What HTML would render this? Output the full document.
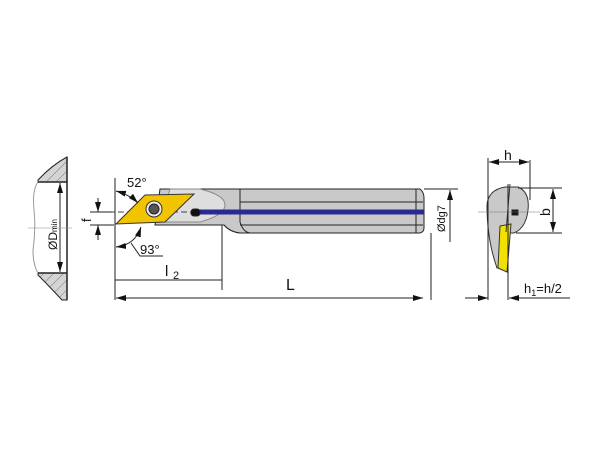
<!DOCTYPE html>
<html><head><meta charset="utf-8"><style>body{margin:0;background:#fff}svg{display:block}text{font-family:"Liberation Sans",sans-serif;fill:#111}</style></head><body>
<svg width="600" height="450" viewBox="0 0 600 450" xmlns="http://www.w3.org/2000/svg">
<defs>
<pattern id="h" width="7" height="7" patternUnits="userSpaceOnUse" patternTransform="rotate(45)"><rect width="7" height="7" fill="#d4d4d4"/><line x1="0" y1="0" x2="0" y2="7" stroke="#666" stroke-width="0.8"/></pattern>
<marker id="a" viewBox="0 0 10 6" refX="10" refY="3" markerWidth="10" markerHeight="6" orient="auto-start-reverse" markerUnits="userSpaceOnUse"><path d="M0,0L10,3L0,6z" fill="#111"/></marker>
</defs>
<g stroke="#222" stroke-width="1" fill="none">
<path d="M38,182 L67,182 L67,157 Q52,165 38,180 Z" fill="url(#h)"/>
<path d="M38,273 L67,273 L67,300 L62,300 Q48,285 38,275 Z" fill="url(#h)"/>
<line x1="67" y1="157" x2="67" y2="300" stroke-width="1.5"/>
<path d="M38,182 Q32,190 34,210 Q36,230 33,250 Q33,265 38,273" stroke="#999"/>
<line x1="38" y1="182" x2="67" y2="182" stroke-width="1.5"/>
<line x1="38" y1="273" x2="67" y2="273" stroke-width="1.5"/>
<line x1="60" y1="183" x2="60" y2="272" marker-start="url(#a)" marker-end="url(#a)"/>
<line x1="28" y1="228" x2="72" y2="228" stroke="#888" stroke-width="0.6"/>
<path d="M240,189 L420,189 Q424,192 424,198 L424,228 Q424,232 420,233 L240,233 Q230,232 224,225 L155,225 L160,189 Z" fill="#c9c9c9"/>
<path d="M170,189 L200,189 Q225,195 225,205 Q225,215 200,222 L160,222 Z" fill="#dedede" stroke="#888"/>
<line x1="240" y1="189" x2="240" y2="222"/>
<path d="M240,222 Q243,232 250,233" />
<line x1="240" y1="202" x2="423" y2="202"/>
<line x1="240" y1="225" x2="423" y2="225"/>
<line x1="416" y1="189" x2="416" y2="233"/>
<line x1="100" y1="212" x2="195" y2="212" stroke-dasharray="6,3" stroke="#444"/>
<line x1="198" y1="212" x2="424" y2="212" stroke="#2a2a90" stroke-width="5"/>
<rect x="191" y="209" width="9" height="7" rx="3" fill="#111"/>
<path d="M116,224 L145,195 L194,194 L165,222 Z" fill="#f2c400" stroke="#333"/>
<circle cx="154" cy="209" r="8" fill="#eee" stroke="#333"/>
<circle cx="154" cy="209" r="5" fill="#555"/>
<line x1="115" y1="178" x2="115" y2="300"/>
<line x1="222" y1="225" x2="222" y2="290"/>
<line x1="115" y1="280" x2="222" y2="280"/>
<line x1="116" y1="298" x2="423" y2="298" marker-start="url(#a)" marker-end="url(#a)"/>
<line x1="431" y1="233" x2="431" y2="300"/>
<path d="M116,191 Q130,195 138,203" marker-start="url(#a)" marker-end="url(#a)"/>
<path d="M116,247 Q135,245 141,227" marker-start="url(#a)" marker-end="url(#a)"/>
<path d="M131,243 L140,256 L163,256"/>
<line x1="90" y1="212" x2="112" y2="212"/>
<line x1="90" y1="225" x2="114" y2="225"/>
<line x1="98" y1="198" x2="98" y2="212" marker-end="url(#a)"/>
<line x1="98" y1="240" x2="98" y2="225" marker-end="url(#a)"/>
<line x1="424" y1="189" x2="458" y2="189"/>
<line x1="450" y1="190" x2="450" y2="242" marker-start="url(#a)"/>
<path d="M487,205 Q488,190 505,187 L518,187 Q530,192 528,210 Q526,228 514,233 L506,233 L500,268 L497,268 Q487,240 487,205 Z" fill="#c9c9c9" stroke="#333"/>
<path d="M500,226 L511,224 L507,272 L498,268 Z" fill="#f2e000" stroke="#333"/>
<line x1="510" y1="184" x2="506" y2="232" stroke="#333"/>
<rect x="512" y="210" width="6" height="5" fill="#111"/>
<line x1="488" y1="158" x2="488" y2="300"/>
<line x1="530" y1="160" x2="530" y2="200"/>
<line x1="489" y1="162" x2="529" y2="162" marker-start="url(#a)" marker-end="url(#a)"/>
<line x1="478" y1="212" x2="540" y2="212" stroke="#777" stroke-width="0.6"/>
<line x1="508" y1="184" x2="508" y2="300"/>
<line x1="518" y1="188" x2="562" y2="188"/>
<line x1="516" y1="233" x2="562" y2="233"/>
<line x1="553" y1="189" x2="553" y2="232" marker-start="url(#a)" marker-end="url(#a)"/>
<line x1="465" y1="298" x2="488" y2="298" marker-end="url(#a)"/>
<line x1="570" y1="298" x2="509" y2="298" marker-end="url(#a)"/>
</g>
<text x="127" y="187" font-size="13">52°</text>
<text x="140" y="254" font-size="13">93°</text>
<text x="165" y="276" font-size="15">l</text><text x="173" y="279" font-size="11">2</text>
<text x="286" y="290" font-size="16">L</text>
<text x="504" y="160" font-size="14">h</text>
<text transform="translate(550,216) rotate(-90)" font-size="14">b</text>
<text transform="translate(91,222) rotate(-90)" font-size="13">f</text>
<text transform="translate(57,250) rotate(-90)" font-size="12">ØD<tspan font-size="8">min</tspan></text>
<text transform="translate(445,232) rotate(-90)" font-size="11">Ødg7</text>
<text x="524" y="293" font-size="13">h<tspan font-size="9" dy="3">1</tspan><tspan dy="-3">=h/2</tspan></text>
</svg>
</body></html>
